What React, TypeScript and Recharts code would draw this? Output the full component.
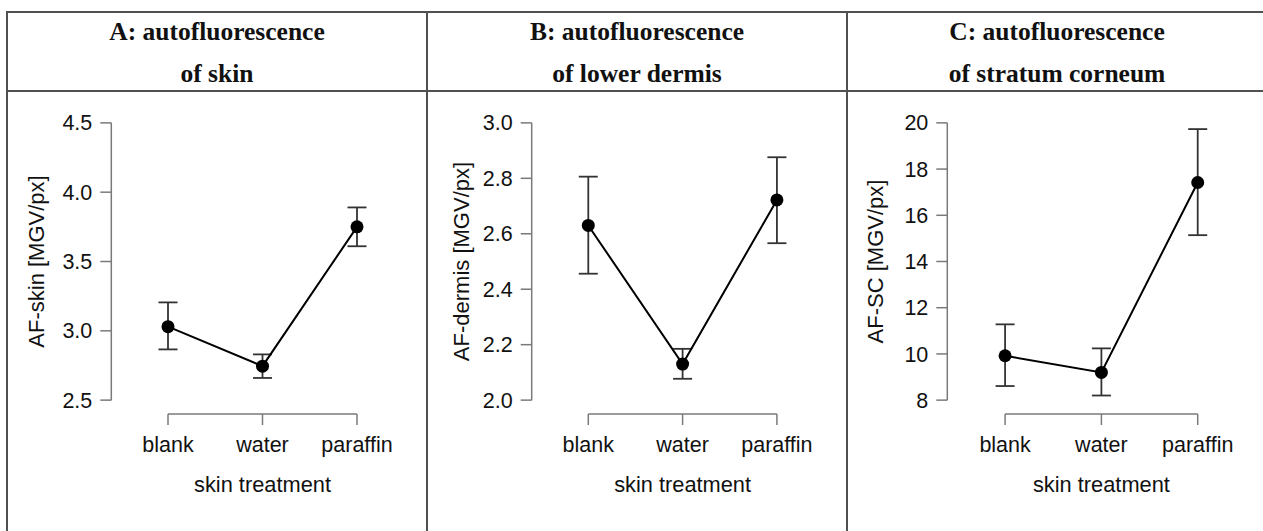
import React from 'react';
import { LineChart, Line, XAxis, YAxis, ErrorBar, ReferenceLine } from 'recharts';

const categories = ['blank', 'water', 'paraffin'];
const categoryPos = [1, 2, 3];

const skinMean = [3.03, 2.745, 3.75];
const skinLower = [2.866, 2.66, 3.61];
const skinUpper = [3.205, 2.83, 3.89];
const skinTicks = [2.5, 3.0, 3.5, 4.0, 4.5];

const dermisMean = [2.63, 2.13, 2.722];
const dermisLower = [2.456, 2.077, 2.566];
const dermisUpper = [2.806, 2.185, 2.876];
const dermisTicks = [2.0, 2.2, 2.4, 2.6, 2.8, 3.0];

const scMean = [9.92, 9.2, 17.42];
const scLower = [8.61, 8.2, 15.14];
const scUpper = [11.28, 10.24, 19.73];
const scTicks = [8, 10, 12, 14, 16, 18, 20];

const SANS = '"Liberation Sans", Arial, sans-serif';
const SERIF = '"Liberation Serif", "Times New Roman", serif';
const AXIS = '#7a7a7a';
const BORDER = '#505050';
const TEXT = '#111';

type PanelProps = {
  left: number;
  width: number;
  yAxisWidth: number;
  marginRight: number;
  titleOffset: number;
  yLabel: string;
  mean: number[];
  lower: number[];
  upper: number[];
  ticks: number[];
  domain: [number, number];
  decimals: number;
};

function Panel(p: PanelProps) {
  const data = categoryPos.map((x, i) => ({
    x,
    y: p.mean[i],
    err: [p.mean[i] - p.lower[i], p.upper[i] - p.mean[i]],
  }));
  return (
    <div style={{ position: 'absolute', left: p.left, top: 92 }}>
      <LineChart
        width={p.width}
        height={439}
        data={data}
        margin={{ top: 17, right: p.marginRight, bottom: 0, left: 0 }}
      >
        <XAxis
          type="number"
          dataKey="x"
          domain={[0.4, 3.6]}
          ticks={categoryPos}
          allowDataOverflow
          tickFormatter={(v: number) => categories[v - 1]}
          axisLine={false}
          tickLine={{ stroke: AXIS, strokeWidth: 1.5 }}
          tickSize={11}
          tickMargin={12}
          height={117}
          tick={{ fill: TEXT, fontSize: 21.5, fontFamily: SANS }}
          label={{
            value: 'skin treatment',
            position: 'insideTop',
            offset: 62.5,
            style: { fill: TEXT, fontSize: 21.8, fontFamily: SANS },
          }}
        />
        <YAxis
          type="number"
          domain={p.domain}
          ticks={p.ticks}
          allowDataOverflow
          interval={0}
          tickFormatter={(v: number) => v.toFixed(p.decimals)}
          axisLine={false}
          tickLine={{ stroke: AXIS, strokeWidth: 1.5 }}
          tickSize={11}
          tickMargin={8}
          width={p.yAxisWidth}
          tick={{ fill: TEXT, fontSize: 21.5, fontFamily: SANS }}
          label={{
            value: p.yLabel,
            angle: -90,
            position: 'insideLeft',
            offset: p.titleOffset,
            style: { fill: TEXT, fontSize: 22, fontFamily: SANS, textAnchor: 'middle' },
          }}
        />
        <ReferenceLine
          segment={[
            { x: 0.4, y: p.ticks[0] },
            { x: 0.4, y: p.ticks[p.ticks.length - 1] },
          ]}
          stroke={AXIS}
          strokeWidth={1.5}
          ifOverflow="visible"
        />
        <ReferenceLine
          segment={[
            { x: categoryPos[0], y: p.domain[0] },
            { x: categoryPos[categoryPos.length - 1], y: p.domain[0] },
          ]}
          stroke={AXIS}
          strokeWidth={1.5}
          ifOverflow="visible"
        />
        <Line
          type="linear"
          dataKey="y"
          stroke="#000"
          strokeWidth={2}
          dot={{ r: 6.5, fill: '#000', stroke: '#000', strokeWidth: 0 }}
          activeDot={false}
          isAnimationActive={false}
        >
          <ErrorBar dataKey="err" direction="y" width={9.5} stroke="#333" strokeWidth={1.8} isAnimationActive={false} />
        </Line>
      </LineChart>
    </div>
  );
}

function Header({ left, width, lines }: { left: number; width: number; lines: string[] }) {
  return (
    <div
      style={{
        position: 'absolute',
        left,
        top: 11,
        width,
        textAlign: 'center',
        fontFamily: SERIF,
        fontWeight: 'bold',
        fontSize: 25.5,
        lineHeight: '42px',
        color: TEXT,
      }}
    >
      {lines.map((l) => (
        <div key={l}>{l}</div>
      ))}
    </div>
  );
}

export default function App() {
  return (
    <div
      style={{
        position: 'absolute',
        left: 0,
        top: 0,
        width: 1263,
        height: 531,
        overflow: 'hidden',
        background: '#fff',
      }}
    >
      {/* table borders */}
      <div style={{ position: 'absolute', left: 6, top: 11, width: 1300, height: 2, background: BORDER }} />
      <div style={{ position: 'absolute', left: 6, top: 90, width: 1300, height: 2, background: BORDER }} />
      <div style={{ position: 'absolute', left: 6, top: 11, width: 2, height: 530, background: BORDER }} />
      <div style={{ position: 'absolute', left: 426, top: 11, width: 2, height: 530, background: BORDER }} />
      <div style={{ position: 'absolute', left: 846, top: 11, width: 2, height: 530, background: BORDER }} />

      <Header left={7} width={420} lines={['A: autofluorescence', 'of skin']} />
      <Header left={427} width={420} lines={['B: autofluorescence', 'of lower dermis']} />
      <Header left={847} width={420} lines={['C: autofluorescence', 'of stratum corneum']} />

      <Panel
        left={7}
        width={420}
        yAxisWidth={104.3}
        marginRight={13.3}
        titleOffset={29.5}
        yLabel="AF-skin [MGV/px]"
        mean={skinMean}
        lower={skinLower}
        upper={skinUpper}
        ticks={skinTicks}
        domain={[2.4, 4.6]}
        decimals={1}
      />
      <Panel
        left={427}
        width={420}
        yAxisWidth={104.7}
        marginRight={13.5}
        titleOffset={34}
        yLabel="AF-dermis [MGV/px]"
        mean={dermisMean}
        lower={dermisLower}
        upper={dermisUpper}
        ticks={dermisTicks}
        domain={[1.95, 3.05]}
        decimals={1}
      />
      <Panel
        left={847}
        width={416}
        yAxisWidth={100.3}
        marginRight={7.5}
        titleOffset={28}
        yLabel="AF-SC [MGV/px]"
        mean={scMean}
        lower={scLower}
        upper={scUpper}
        ticks={scTicks}
        domain={[7.4, 20.6]}
        decimals={0}
      />
    </div>
  );
}
